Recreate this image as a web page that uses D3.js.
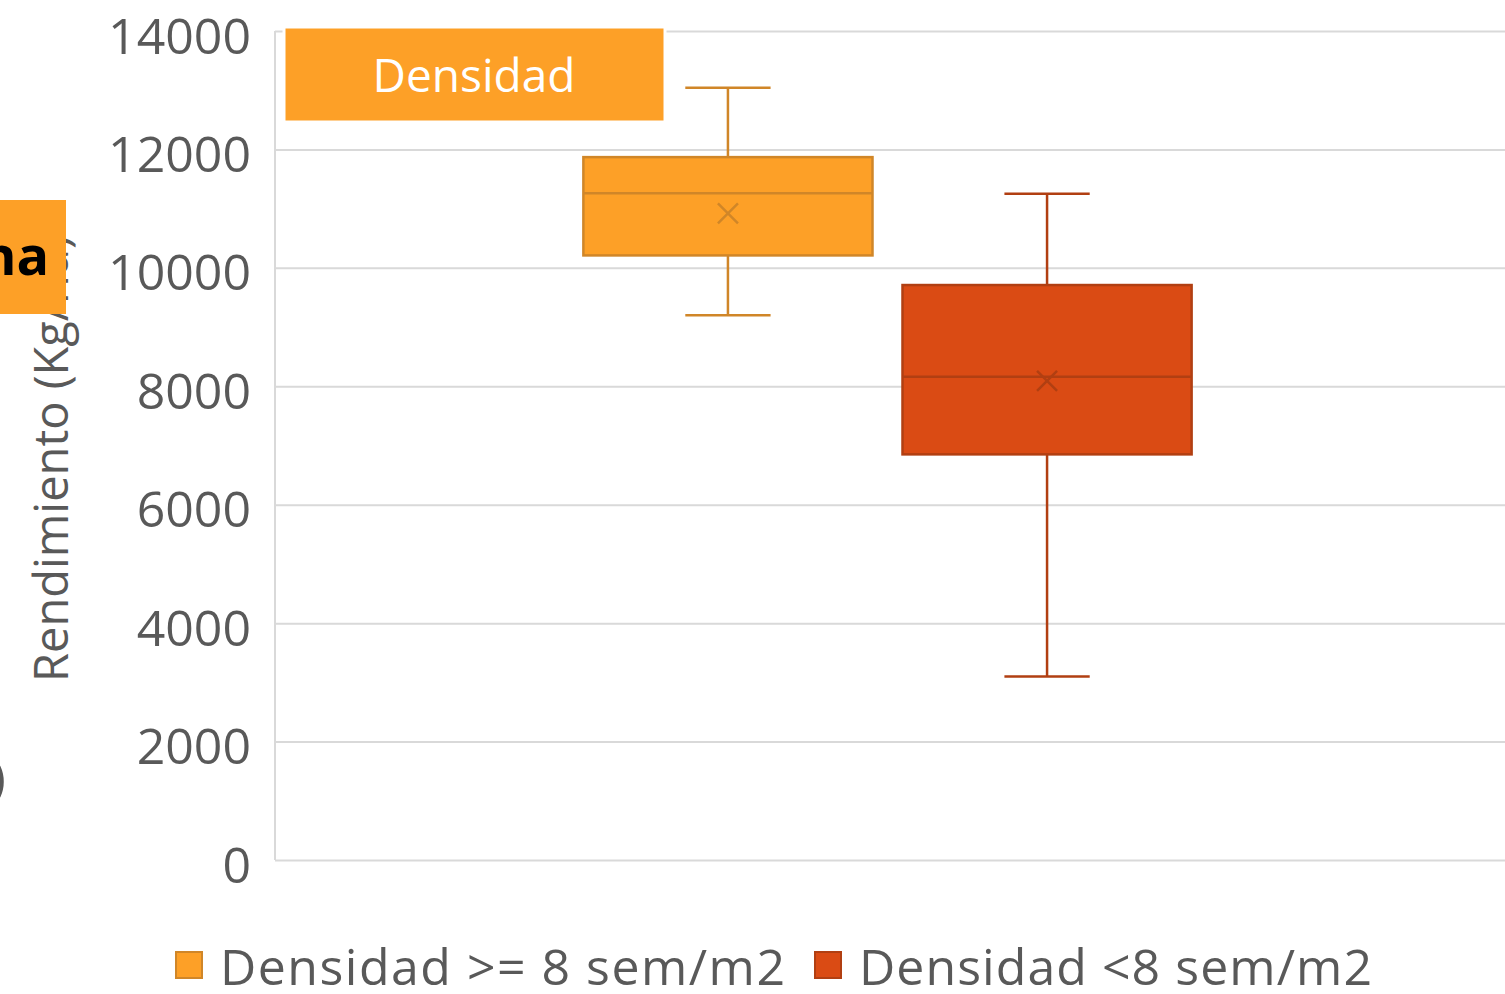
<!DOCTYPE html>
<html><head><meta charset="utf-8">
<script src="https://cdn.jsdelivr.net/npm/d3@7"></script>
<style>body{margin:0;background:#fff;overflow:hidden}text{font-family:"Open Sans",sans-serif}</style>
</head><body><svg id="c" width="1505" height="994"></svg>
<script>
const categories = ["Densidad"];
const seriesNames = ["Densidad >= 8 sem/m2", "Densidad <8 sem/m2"];
const whiskerLow = [9200, 3100];
const q1 = [10210, 6850];
const median = [11260, 8160];
const q3 = [11870, 9710];
const whiskerHigh = [13040, 11250];
const means = [10920, 8090];
const yTicks = [0, 2000, 4000, 6000, 8000, 10000, 12000, 14000];
const fills = ["#FDA027", "#DA4B14"];
const strokes = ["#D08628", "#B13F12"];

const svg = d3.select("#c");
const L = 275, R = 1500, T = 31, B = 860;
const y = d3.scaleLinear().domain([0, 14000]).range([B, T]);
const x0 = d3.scaleBand().domain(categories).range([L, R]).paddingOuter(0.507);
const x1 = d3.scaleBand().domain(seriesNames).range([x0(categories[0]), x0(categories[0]) + x0.bandwidth()]).paddingInner(0.094);

// gridlines + labels
const ax = svg.append("g").attr("transform", `translate(${L},0)`)
  .call(d3.axisLeft(y).tickValues(yTicks).tickSize(-(R + 5 - L)).tickPadding(24).tickFormat(d3.format("d")));
ax.select(".domain").remove();
ax.selectAll(".tick line").attr("stroke", "#D9D9D9").attr("stroke-width", 2);
ax.selectAll(".tick text").attr("fill", "#595959").style("font-size", "50px").attr("dy", "0.44em");
svg.append("line").attr("x1", L).attr("x2", L).attr("y1", y(14000)).attr("y2", y(0)).attr("stroke", "#D9D9D9").attr("stroke-width", 2);

// boxes
seriesNames.forEach((s, i) => {
  const cx = x1(s) + x1.bandwidth() / 2, bw = x1.bandwidth(), cap = bw * 0.295;
  const g = svg.append("g");
  g.append("line").attr("x1", cx).attr("x2", cx).attr("y1", y(whiskerHigh[i])).attr("y2", y(q3[i])).attr("stroke", strokes[i]).attr("stroke-width", 2.5);
  g.append("line").attr("x1", cx).attr("x2", cx).attr("y1", y(q1[i])).attr("y2", y(whiskerLow[i])).attr("stroke", strokes[i]).attr("stroke-width", 2.5);
  g.append("line").attr("x1", cx - cap / 2).attr("x2", cx + cap / 2).attr("y1", y(whiskerHigh[i])).attr("y2", y(whiskerHigh[i])).attr("stroke", strokes[i]).attr("stroke-width", 2.5);
  g.append("line").attr("x1", cx - cap / 2).attr("x2", cx + cap / 2).attr("y1", y(whiskerLow[i])).attr("y2", y(whiskerLow[i])).attr("stroke", strokes[i]).attr("stroke-width", 2.5);
  g.append("rect").attr("x", x1(s)).attr("width", bw).attr("y", y(q3[i])).attr("height", y(q1[i]) - y(q3[i]))
    .attr("fill", fills[i]).attr("stroke", strokes[i]).attr("stroke-width", 2.5);
  g.append("line").attr("x1", x1(s)).attr("x2", x1(s) + bw).attr("y1", y(median[i])).attr("y2", y(median[i])).attr("stroke", strokes[i]).attr("stroke-width", 2.5);
  const my = y(means[i]), m = 10;
  g.append("path").attr("d", `M${cx - m},${my - m}L${cx + m},${my + m}M${cx - m},${my + m}L${cx + m},${my - m}`)
    .attr("stroke", strokes[i]).attr("stroke-width", 2.5).attr("fill", "none");
});

// y axis title
svg.append("text").attr("transform", "translate(68,682) rotate(-90)").attr("fill", "#595959")
  .style("font-size", "47px").text("Rendimiento (Kg/ha)");

// legend
const lg = svg.append("g");
const lx = [176, 815];
const lw = [565, 513];
seriesNames.forEach((s, i) => {
  lg.append("rect").attr("x", lx[i]).attr("y", 952).attr("width", 26).attr("height", 26).attr("fill", fills[i]).attr("stroke", strokes[i]).attr("stroke-width", 2);
  lg.append("text").attr("x", lx[i] + 44).attr("y", 985).attr("fill", "#595959").style("font-size", "50px")
    .attr("textLength", lw[i]).attr("lengthAdjust", "spacing").text(s);
});

// overlay fragments
svg.append("rect").attr("x", 284).attr("y", 27).attr("width", 381).attr("height", 95).attr("fill", "#FDA027").attr("stroke", "#fff").attr("stroke-width", 3);
svg.append("text").attr("x", 474).attr("y", 92).attr("text-anchor", "middle").attr("fill", "#fff").style("font-size", "46px").text(categories[0]);
svg.append("rect").attr("x", -5).attr("y", 200).attr("width", 71).attr("height", 114).attr("fill", "#FDA027");
svg.append("text").attr("x", 49).attr("y", 275).attr("text-anchor", "end").attr("fill", "#000").style("font-size", "54px").style("font-weight", "bold").text("na");
svg.append("text").attr("x", -9).attr("y", 795).attr("fill", "#595959").style("font-size", "50px").text(")");
</script></body></html>
